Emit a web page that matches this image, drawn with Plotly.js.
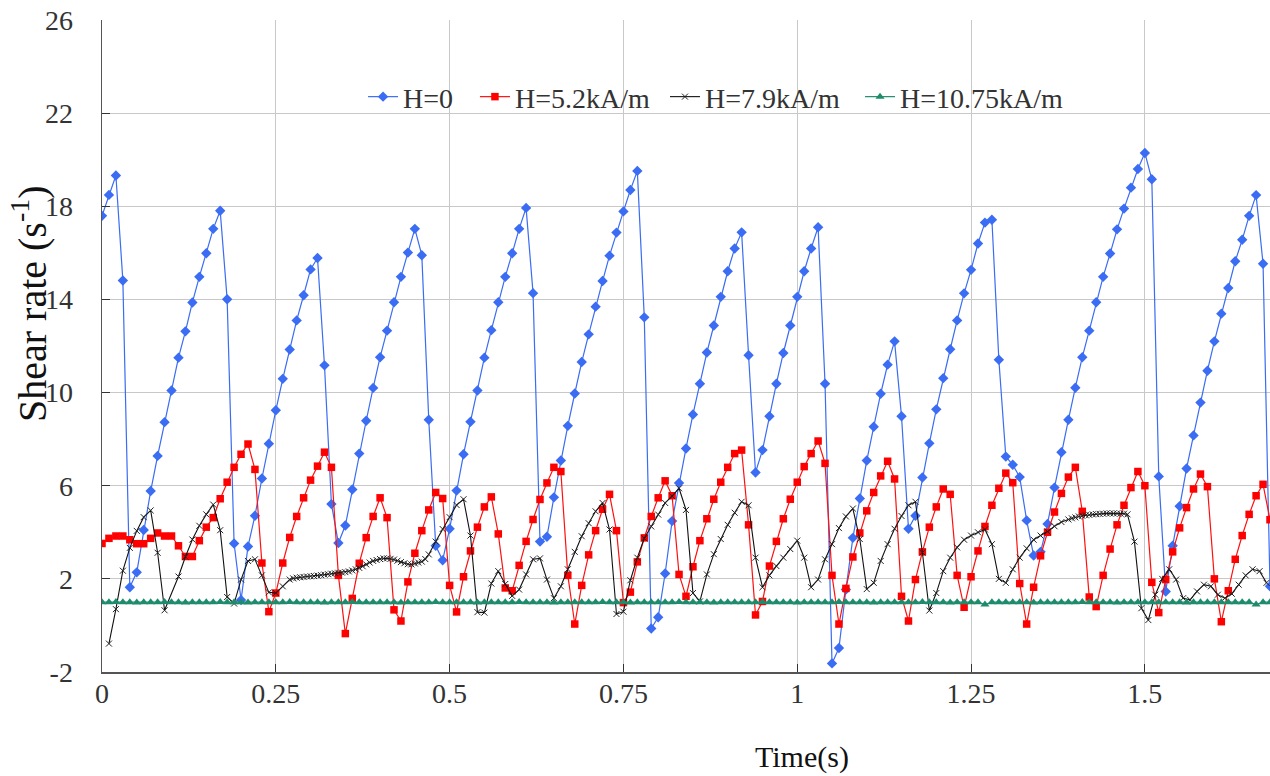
<!DOCTYPE html>
<html>
<head>
<meta charset="utf-8">
<script src="https://cdn.plot.ly/plotly-3.0.1.min.js"></script>
<style>html,body{margin:0;padding:0;background:#fff;}#chart{width:1270px;height:776px;}</style>
</head>
<body>
<div id="chart"></div>
<script>
// time base for H=0, H=5.2 and H=10.75 series (s)
const timeMain = [
0.00,0.01,0.02,0.03,0.04,0.05,0.06,0.07,0.08,0.09,0.10,0.11,0.12,0.13,0.14,0.15,0.16,0.17,0.18,0.19,
0.20,0.21,0.22,0.23,0.24,0.25,0.26,0.27,0.28,0.29,0.30,0.31,0.32,0.33,0.34,0.35,0.36,0.37,0.38,0.39,
0.40,0.41,0.42,0.43,0.44,0.45,0.46,0.47,0.48,0.49,0.50,0.51,0.52,0.53,0.54,0.55,0.56,0.57,0.58,0.59,
0.60,0.61,0.62,0.63,0.64,0.65,0.66,0.67,0.68,0.69,0.70,0.71,0.72,0.73,0.74,0.75,0.76,0.77,0.78,0.79,
0.80,0.81,0.82,0.83,0.84,0.85,0.86,0.87,0.88,0.89,0.90,0.91,0.92,0.93,0.94,0.95,0.96,0.97,0.98,0.99,
1.00,1.01,1.02,1.03,1.04,1.05,1.06,1.07,1.08,1.09,1.10,1.11,1.12,1.13,1.14,1.15,1.16,1.17,1.18,1.19,
1.20,1.21,1.22,1.23,1.24,1.25,1.26,1.27,1.28,1.29,1.30,1.31,1.32,1.33,1.34,1.35,1.36,1.37,1.38,1.39,
1.40,1.41,1.42,1.43,1.44,1.45,1.46,1.47,1.48,1.49,1.50,1.51,1.52,1.53,1.54,1.55,1.56,1.57,1.58,1.59,
1.60,1.61,1.62,1.63,1.64,1.65,1.66,1.67,1.68];

const shearH0 = [
17.59,18.49,19.32,14.81,1.64,2.28,4.10,5.77,7.28,8.73,10.09,11.50,12.63,13.87,14.97,15.98,17.03,17.81,14.01,3.52,
1.09,3.39,4.71,6.31,7.80,9.24,10.59,11.85,13.10,14.18,15.29,15.78,11.17,5.21,3.54,4.29,5.84,7.38,8.79,10.20,
11.52,12.66,13.88,14.97,16.01,17.03,15.90,8.83,3.42,2.80,4.15,5.79,7.35,8.75,10.09,11.50,12.68,13.88,14.97,15.98,
17.03,17.93,14.27,3.60,3.81,5.50,7.08,8.57,9.96,11.31,12.50,13.69,14.79,15.88,16.87,17.78,18.70,19.52,13.23,-0.13,
0.35,2.23,4.48,6.12,7.60,9.06,10.38,11.72,12.88,14.11,15.21,16.19,16.88,11.60,6.57,7.53,8.98,10.38,11.70,12.88,
14.11,15.21,16.19,17.10,10.38,-1.63,-0.97,1.54,3.76,5.45,7.08,8.53,9.95,11.20,12.20,8.98,4.15,4.71,6.35,7.82,
9.28,10.62,11.86,13.10,14.26,15.27,16.40,17.30,17.42,11.41,7.25,6.90,6.37,4.51,3.00,3.16,4.36,5.92,7.44,8.83,
10.21,11.52,12.66,13.88,14.97,15.97,17.01,17.90,18.80,19.60,20.29,19.16,6.40,1.46,3.42,5.12,6.74,8.16,9.57,10.94,
12.20,13.39,14.49,15.64,16.56,17.59,18.48,15.53,1.68];

const shearH52 = [
3.52,3.74,3.84,3.84,3.68,3.51,3.51,3.74,3.97,3.84,3.84,3.42,2.96,2.96,3.64,4.22,4.63,5.44,6.15,6.79,
7.35,7.79,6.70,2.68,0.59,1.39,2.68,3.78,4.68,5.48,6.24,6.84,7.44,6.79,2.15,-0.35,1.16,2.67,3.77,4.68,
5.48,4.63,0.67,0.19,1.87,3.10,4.07,4.96,5.71,5.45,1.72,0.58,2.09,3.20,4.22,5.09,5.52,3.93,1.61,1.49,
2.58,3.61,4.55,5.41,6.12,6.79,6.61,2.15,0.06,1.72,3.03,4.07,4.99,5.63,4.07,0.98,1.43,2.73,3.76,4.68,
5.48,6.21,5.57,2.19,1.25,2.52,3.64,4.58,5.42,6.15,6.79,7.38,7.53,4.32,0.45,1.03,2.55,3.61,4.58,5.42,
6.15,6.82,7.38,7.92,6.96,2.15,0.06,1.59,2.94,3.97,4.92,5.71,6.42,7.05,6.29,1.25,0.19,1.97,3.16,4.22,
5.09,5.86,5.63,2.15,0.78,2.09,3.20,4.25,5.16,5.89,6.54,6.13,1.80,0.06,1.64,2.99,4.00,4.87,5.67,6.37,
6.79,4.90,1.22,0.81,2.15,3.28,4.32,5.16,5.92,6.61,6.00,1.85,0.55,1.97,3.16,4.19,5.06,5.86,6.50,5.96,
2.00,0.16,1.49,2.84,3.86,4.77,5.57,6.06,4.54];

const shearH1075 = [
1.00,1.00,1.01,1.00,1.00,0.99,1.00,1.00,1.00,1.01,1.00,1.00,0.99,1.00,1.00,1.00,1.00,1.01,1.00,1.00,
1.00,0.99,1.00,1.00,1.00,1.00,1.00,1.01,1.00,1.00,1.00,1.00,0.99,1.00,1.00,1.00,1.01,1.00,1.00,1.00,
1.00,1.00,1.00,0.99,1.00,1.00,1.00,1.00,1.01,1.00,1.00,1.00,1.00,1.00,0.99,1.00,1.00,1.00,1.00,1.00,
1.01,1.00,1.00,1.00,1.00,0.99,1.00,1.00,1.00,1.00,1.00,1.00,1.01,1.00,1.00,1.00,0.99,1.00,1.00,1.00,
1.00,1.00,1.00,1.01,1.00,1.00,1.00,1.00,0.99,1.00,1.00,1.00,1.00,1.00,1.00,1.01,1.00,1.00,1.00,1.00,
0.99,1.00,1.00,1.00,1.00,1.00,1.01,1.00,1.00,1.00,1.00,0.99,1.00,1.00,1.00,1.00,1.00,1.00,1.01,1.00,
1.00,1.00,0.99,1.00,1.00,1.00,1.00,0.90,1.00,1.00,1.00,1.00,1.00,1.00,0.99,1.00,1.00,1.00,1.00,1.00,
1.00,1.01,1.00,1.00,1.00,1.00,0.99,1.00,1.00,1.00,1.00,1.00,1.00,1.00,1.00,1.00,0.99,1.00,1.00,1.00,
1.00,1.00,1.00,1.00,1.00,1.00,0.90,1.00,1.00];

// H=7.9kA/m has its own (non-uniform) time base
const timeH79 = [
0.01,0.02,0.03,0.04,0.05,0.06,0.07,0.08,0.09,0.11,0.12,0.13,0.14,0.15,0.16,0.17,0.18,0.19,0.20,0.21,
0.22,0.23,0.24,0.25,0.26,0.27,0.275,0.28,0.285,0.29,0.295,0.30,0.305,0.31,0.315,0.32,0.325,0.33,0.335,0.34,
0.345,0.35,0.355,0.36,0.365,0.37,0.375,0.38,0.385,0.39,0.395,0.40,0.405,0.41,0.415,0.42,0.425,0.43,0.435,0.44,
0.445,0.45,0.455,0.46,0.465,0.47,0.48,0.49,0.50,0.51,0.52,0.53,0.54,0.55,0.56,0.57,0.58,0.59,0.60,0.61,
0.62,0.63,0.64,0.65,0.66,0.67,0.68,0.69,0.70,0.71,0.72,0.73,0.74,0.75,0.76,0.77,0.78,0.79,0.80,0.81,
0.82,0.83,0.84,0.85,0.86,0.87,0.88,0.89,0.90,0.91,0.92,0.93,0.94,0.95,0.96,0.97,0.98,0.99,1.00,1.01,
1.02,1.03,1.04,1.05,1.06,1.07,1.08,1.09,1.10,1.11,1.12,1.13,1.14,1.15,1.16,1.17,1.18,1.19,1.20,1.21,
1.22,1.23,1.24,1.25,1.26,1.27,1.28,1.29,1.30,1.31,1.32,1.33,1.34,1.35,1.36,1.37,1.38,1.39,1.395,1.40,
1.405,1.41,1.415,1.42,1.425,1.43,1.435,1.44,1.445,1.45,1.455,1.46,1.465,1.47,1.475,1.485,1.495,1.505,1.515,1.525,
1.535,1.545,1.555,1.565,1.575,1.585,1.595,1.605,1.615,1.625,1.635,1.645,1.655,1.665,1.675];

const shearH79 = [
-0.78,0.70,2.35,3.33,4.06,4.65,4.94,3.12,0.65,2.10,2.95,3.69,4.28,4.77,5.19,4.09,1.22,0.94,1.97,2.77,
2.84,2.15,1.42,1.39,1.68,1.97,2.02,2.05,2.07,2.08,2.10,2.11,2.12,2.14,2.16,2.18,2.20,2.22,2.24,2.26,
2.27,2.29,2.32,2.36,2.41,2.47,2.54,2.62,2.70,2.77,2.81,2.85,2.88,2.88,2.86,2.83,2.78,2.72,2.67,2.63,
2.62,2.66,2.70,2.74,2.85,3.05,3.60,4.14,4.65,5.17,5.42,3.86,0.57,0.55,1.80,2.33,1.78,1.27,1.54,2.19,
2.84,2.88,1.97,1.17,1.68,2.41,3.16,3.83,4.39,4.90,5.26,4.12,0.49,0.59,1.94,2.91,3.74,4.25,4.76,5.26,
5.55,5.89,4.96,1.39,1.03,2.19,3.06,3.71,4.32,4.84,5.31,5.16,2.91,1.64,2.15,2.55,2.91,3.28,3.64,2.91,
1.64,1.97,2.84,3.49,4.18,4.68,5.02,3.71,1.56,1.83,2.77,3.49,4.15,4.70,5.16,5.31,3.13,0.64,1.39,2.33,
2.91,3.35,3.68,3.86,4.00,4.12,3.49,2.00,1.83,2.41,2.91,3.31,3.68,3.86,4.03,4.26,4.44,4.55,4.60,4.64,
4.68,4.71,4.73,4.75,4.77,4.78,4.79,4.80,4.81,4.81,4.81,4.81,4.80,4.80,4.77,3.60,0.74,0.23,1.32,2.00,
2.41,1.97,1.17,1.10,1.46,1.75,1.68,1.32,1.17,1.36,1.75,2.15,2.41,2.33,1.83];

const seriesNames = ['H=0','H=5.2kA/m','H=7.9kA/m','H=10.75kA/m'];
const xTickVals = [0,0.25,0.5,0.75,1,1.25,1.5];
const xTickText = ['0','0.25','0.5','0.75','1','1.25','1.5'];
const yTickVals = [-2,2,6,10,14,18,22,26];
const yTickText = ['-2','2','6','10','14','18','22','26'];
const xTitle = 'Time(s)';
const yTitle = 'Shear rate (s<sup>-1</sup>)';

const serif = 'Liberation Serif';
const legendFont = {family:serif, size:28, color:'#333333'};

const traces = [
  {x: timeMain, y: shearH0, name: seriesNames[0], type:'scatter', mode:'lines+markers', legend:'legend',
   line:{color:'#3a6cf4', width:1.2}, marker:{symbol:'diamond', size:8, color:'#3a6cf4'}},
  {x: timeMain, y: shearH52, name: seriesNames[1], type:'scatter', mode:'lines+markers', legend:'legend2',
   line:{color:'#ff1010', width:1.2}, marker:{symbol:'square', size:7.5, color:'#ff0000'}},
  {x: timeH79, y: shearH79, name: seriesNames[2], type:'scatter', mode:'lines+markers', legend:'legend3',
   line:{color:'#111111', width:1.1}, marker:{symbol:'x-thin-open', size:6, color:'#222222', line:{width:1, color:'#222222'}}},
  {x: timeMain, y: shearH1075, name: seriesNames[3], type:'scatter', mode:'lines+markers', legend:'legend4',
   line:{color:'#1e8c6c', width:1.2}, marker:{symbol:'triangle-up', size:8, color:'#1e8c6c'}}
];

function legendAt(xp){
  return {orientation:'h', x:xp, xanchor:'left', y:0.882, yanchor:'middle',
          bgcolor:'rgba(0,0,0,0)', font:legendFont, itemwidth:30};
}

const layout = {
  width:1270, height:776,
  margin:{l:102, r:0, t:20, b:104},
  paper_bgcolor:'#ffffff', plot_bgcolor:'#ffffff',
  font:{family:serif, color:'#333333'},
  showlegend:true,
  legend:legendAt(0.2235),
  legend2:legendAt(0.3193),
  legend3:legendAt(0.4820),
  legend4:legendAt(0.6490),
  xaxis:{range:[0,1.68], tickvals:xTickVals, ticktext:xTickText, showgrid:true, gridcolor:'#c8c8c8', gridwidth:1,
         zeroline:false, showline:true, linecolor:'#555555', linewidth:1.5, ticks:'inside', ticklen:8, tickcolor:'#333333',
         tickfont:{family:serif, size:28, color:'#333333'}, ticklabelstandoff:-4},
  yaxis:{range:[-2,26], tickvals:yTickVals, ticktext:yTickText, showgrid:true, gridcolor:'#c8c8c8', gridwidth:1,
         zeroline:false, showline:true, linecolor:'#555555', linewidth:1.5, ticks:'inside', ticklen:8, tickcolor:'#333333',
         tickfont:{family:serif, size:28, color:'#333333'}, ticklabelstandoff:22},
  shapes:[
    // white legend panel hiding the grid behind the legend
    {type:'rect', xref:'paper', yref:'paper', x0:0.2166, x1:0.8519, y0:0.8466, y1:0.9156,
     fillcolor:'#ffffff', line:{width:0}, layer:'between'},
    // no grid line along the top edge
    {type:'line', xref:'paper', yref:'paper', x0:0, x1:1, y0:1, y1:1,
     line:{color:'#ffffff', width:2}, layer:'between'}
  ],
  annotations:[
    {text:xTitle, xref:'paper', yref:'paper', x:0.5993, y:-0.1304, xanchor:'center', yanchor:'middle',
     showarrow:false, font:{family:serif, size:30, color:'#111111'}},
    {text:yTitle, xref:'paper', yref:'paper', x:-0.0625, y:0.5644, xanchor:'center', yanchor:'middle',
     textangle:-90, showarrow:false, font:{family:serif, size:40, color:'#111111'}}
  ]
};

Plotly.newPlot('chart', traces, layout, {displayModeBar:false, staticPlot:true});
</script>
</body>
</html>
